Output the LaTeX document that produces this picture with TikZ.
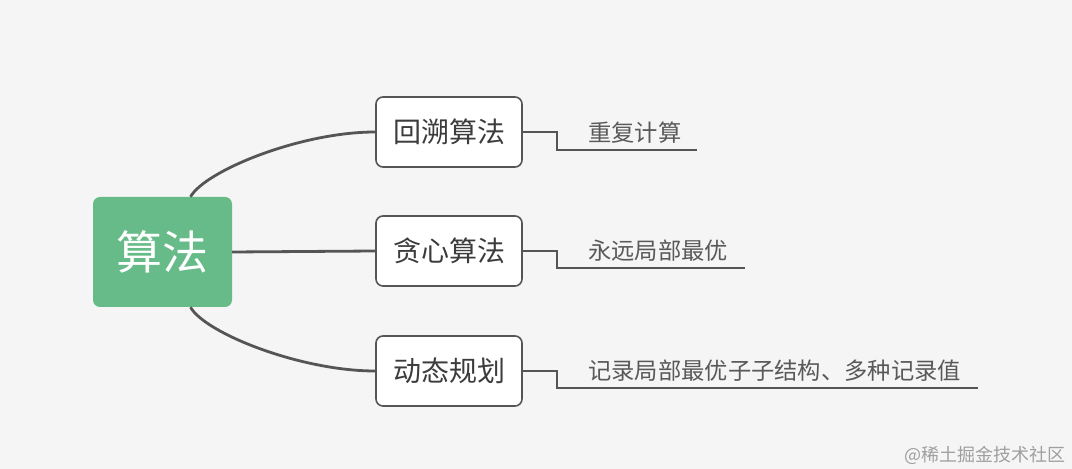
\documentclass[tikz,border=0pt]{standalone}
\usepackage{fontspec}
\setmainfont{Noto Sans CJK SC}
\usepackage{tikz}
\definecolor{bg}{HTML}{F5F5F5}
\definecolor{mindgreen}{RGB}{102,187,136}
\definecolor{linegray}{HTML}{555555}
\definecolor{textgray}{HTML}{3C3C3C}

\begin{document}
\begin{tikzpicture}[x=1pt, y=1pt,
	mainbox/.style={fill=mindgreen, rounded corners=7pt, minimum width=139pt, minimum height=110pt, text=white, font=\fontsize{46}{50}\selectfont},
	subbox/.style={draw=linegray, line width=1.6pt, fill=white, rounded corners=7pt, minimum width=146pt, minimum height=70pt, text=textgray, font=\fontsize{28}{31}\selectfont},
	leaftext/.style={anchor=west, inner sep=0pt, text=textgray!85, font=\fontsize{23.3}{26}\selectfont},
	branch/.style={draw=linegray, line width=2.8pt},
	leafline/.style={draw=linegray, line width=1.8pt}]
		\fill[bg] (0,0) rectangle (1072,469);
		% root and the three topics
		\node[mainbox] (algo) at (162.5,217) {算法};
		\node[subbox] (backtrack) at (449,337) {回溯算法};
		\node[subbox] (greedy) at (449,218) {贪心算法};
		\node[subbox] (dynprog) at (449,98) {动态规划};
		\draw[branch] ([xshift=28pt]algo.north) .. controls (205,298) and (300,337) .. (backtrack.west);
		\draw[branch] (algo.east) -- (greedy.west);
		\draw[branch] ([xshift=28pt]algo.south) .. controls (205,136) and (300,98) .. (dynprog.west);
		% notes on the right
		\coordinate (e1) at (697,319);
		\coordinate (e2) at (745,201);
		\coordinate (e3) at (978,81);
		\draw[leafline] (backtrack.east) -- ++(34,0) |- (e1);
		\draw[leafline] (greedy.east) -- ++(34,0) |- (e2);
		\draw[leafline] (dynprog.east) -- ++(34,0) |- (e3);
		\node[leaftext] (n1) at (588,336) {重复计算};
		\node[leaftext] (n2) at (588,218) {永远局部最优};
		\node[leaftext] (n3) at (588,98) {记录局部最优子子结构、多种记录值};
		% watermark
		\node[anchor=east, inner sep=0pt, text=gray!75, font=\fontsize{18}{20}\selectfont] (mark) at (1066,14) {@稀土掘金技术社区};
	\end{tikzpicture}
\end{document}
